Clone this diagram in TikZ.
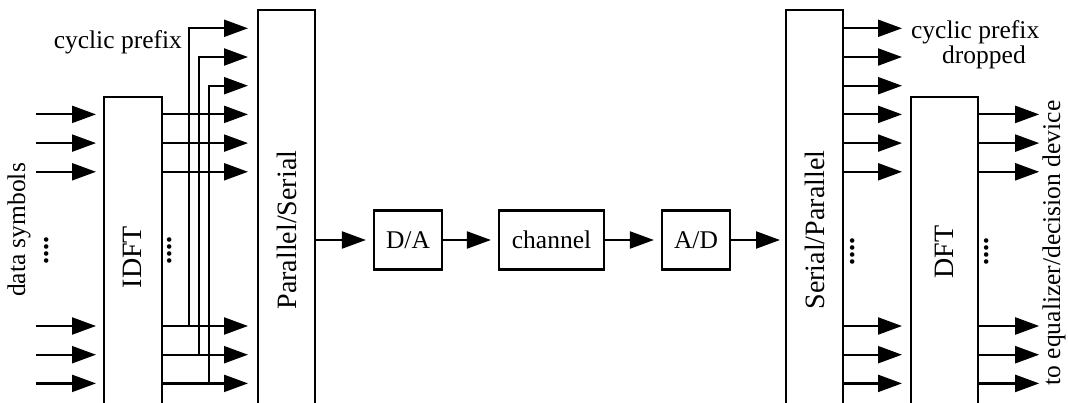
\documentclass[tikz,border=0pt]{standalone}
\usepackage{fontspec}
\setmainfont{Liberation Serif}
\usetikzlibrary{arrows.meta,calc}
\begin{document}
\begin{tikzpicture}[x=1pt,y=-1pt,
  line width=2.2pt,
  txt/.style={font=\fontsize{25.5}{29}\selectfont, inner sep=0pt},
  dots/.style={font=\fontsize{28}{30}\selectfont\bfseries, inner sep=0pt, rotate=90},
  blk/.style={draw, line width=2.2pt, inner sep=0pt, font=\fontsize{25.5}{29}\selectfont},
  vblk/.style={blk, anchor=north west, font=\fontsize{28}{32}\selectfont},
  arr/.style={-{Triangle[length=24pt,width=17pt]}, line width=2.2pt},
]
\useasboundingbox (0,0) rectangle (1068,403);

% blocks
\node[vblk, minimum width=58.5pt, minimum height=320pt] (idft) at (102.5,96) {\rotatebox{90}{IDFT}};
\node[vblk, minimum width=57pt, minimum height=440pt] (ps) at (257,9) {\rotatebox{90}{Parallel/Serial}};
\node[vblk, minimum width=57pt, minimum height=440pt] (sp) at (785,9) {\rotatebox{90}{Serial/Parallel}};
\node[vblk, minimum width=67pt, minimum height=310pt] (dft) at (910,96) {\rotatebox{90}{DFT}};
\node[blk, minimum width=68pt, minimum height=59pt] (da) at (408,240) {D/A};
\node[blk, minimum width=105pt, minimum height=59pt] (ch) at (551.5,240) {channel};
\node[blk, minimum width=68pt, minimum height=59pt] (ad) at (696,240) {A/D};

% inputs to IDFT, IDFT outputs, DFT outputs
\foreach \y [count=\i] in {114.4,143.1,171.8,326,354.7,383.4} {
  \coordinate (in\i) at (36,\y);
  \draw[arr] (in\i) -- ($(idft.west |- in\i)+(-6.5,0)$);
  \draw[arr] (idft.east |- in\i) -- ($(ps.west |- in\i)+(-9,0)$);
  \draw[arr] ($(dft.east |- in\i)$) -- ($(dft.east |- in\i)+(60,0)$);
}

% cyclic prefix copies
\foreach \x/\yt/\yb [count=\i] in {189/28.3/326,199/57/354.7,209/85.7/383.4} {
  \coordinate (cpb\i) at (\x,\yb+1.1);
  \coordinate (cpt\i) at (\x,\yt);
  \draw[arr] (cpb\i) -- (cpt\i) -- ($(ps.west |- cpt\i)+(-9,0)$);
}

% serial/parallel outputs
\foreach \y [count=\i] in {28.3,57,85.7,114.4,143.1,171.8,326,354.7,383.4} {
  \coordinate (so\i) at (0,\y);
  \draw[arr] (sp.east |- so\i) -- ($(dft.west |- so\i)+(-8,0)$);
}

% main chain
\draw[arr] (ps.east |- da.west) -- ($(da.west)+(-7,0)$);
\draw[arr] (da.east) -- ($(ch.west)+(-7,0)$);
\draw[arr] (ch.east) -- ($(ad.west)+(-7,0)$);
\draw[arr] (ad.east) -- ($(sp.west |- ad.east)+(-5,0)$);

% labels
\node[txt, anchor=east] (cpl) at (183,42) {cyclic prefix};
\node[txt, anchor=west] (cpr) at (910,32) {cyclic prefix};
\node[txt] (drp) at (984,57) {dropped};
\node[txt, rotate=90] (dsym) at (19,230) {data symbols};
\node[txt, rotate=90] (eqd) at (1054,243) {to equalizer/decision device};
\node[dots] (d1) at (47,251) {....};
\node[dots] (d2) at (170,251) {....};
\node[dots] (d3) at (853,252) {....};
\node[dots] (d4) at (987,252) {....};
\end{tikzpicture}
\end{document}
